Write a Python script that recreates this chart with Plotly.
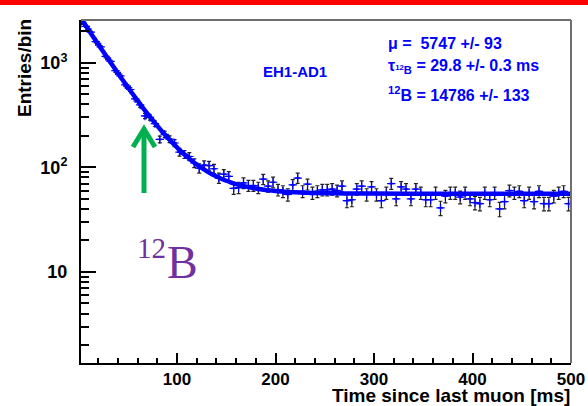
import numpy as np
import plotly.graph_objects as go

# ---------------- data ----------------
bin_width = 5.0
bin_centers = np.arange(2.5, 500.0, bin_width)  # 100 bins, 0-500 ms

counts = [
    2380, 2230, 1960, 1590, 1420, 1150, 1030, 840, 750, 615,
    555, 452, 395, 310, 300, 262, 185, 207, 186, 171,
    140, 133, 127, 110, 98, 105, 104, 97, 79, 86,
    82, 63, 64, 71, 67, 67, 64, 77, 66, 72,
    61, 59, 55, 68, 79, 59, 69, 57, 59, 61,
    61, 62, 60, 66, 48, 49, 62, 66, 55, 65,
    55, 48, 57, 70, 50, 65, 62, 50, 62, 57,
    49, 49, 57, 41, 53, 57, 57, 52, 57, 50,
    46, 45, 57, 49, 57, 40, 47, 60, 57, 59,
    48, 57, 47, 59, 45, 45, 53, 57, 59, 45,
]
count_err = np.sqrt(np.array(counts, dtype=float))

fit_t = [0, 5, 10, 15, 20, 25, 30, 35, 40, 45, 50, 55, 60, 65, 70, 75, 80, 85, 90, 95,
         100, 105, 110, 115, 120, 125, 130, 135, 140, 145, 150, 155, 160, 165, 170, 175,
         180, 185, 190, 195, 200, 210, 220, 230, 240, 260, 280, 300, 350, 400, 450, 500]
fit_val = [2886, 2449, 2079, 1767, 1502, 1279, 1090, 930, 795, 681, 585, 503, 434, 375,
           326, 284, 249, 219, 194, 173, 155, 139.5, 127, 115.7, 106, 98.6, 92, 86.5, 82,
           77.8, 74.4, 71.6, 69.2, 67.1, 65.4, 64.0, 62.7, 61.7, 60.8, 60.1, 59.4, 58.5,
           57.8, 57.3, 56.9, 56.5, 56.2, 56.1, 56.0, 56.0, 56.0, 56.0]

x_major = [100, 200, 300, 400, 500]
x_minor = [20, 40, 60, 80, 120, 140, 160, 180, 220, 240, 260, 280,
           320, 340, 360, 380, 420, 440, 460, 480]
y_major = [10, 100, 1000]
y_major_text = ["10", "10<sup>2</sup>", "10<sup>3</sup>"]
y_minor = [2, 3, 4, 5, 6, 7, 8, 9, 20, 30, 40, 50, 60, 70, 80, 90,
           200, 300, 400, 500, 600, 700, 800, 900, 2000]

stats_lines = ["μ =\u00a0 5747 +/- 93",
               "τ<sub><sup>12</sup>B</sub> = 29.8 +/- 0.3 ms",
               "<sup>12</sup>B = 14786 +/- 133"]
label_text = "EH1-AD1"

# ---------------- geometry helpers (figure pixels -> paper) ----------------
W, H = 588, 406
L, R, T, B = 81, 571, 20, 363


def px(x):
    return (x - L) / (R - L)


def py(y):
    return (B - y) / (B - T)


SANS = "Liberation Sans, Arial, sans-serif"
SERIF = "Liberation Serif, Times New Roman, serif"
BLUE = "#0000ff"

fig = go.Figure()

fig.add_trace(go.Scatter(
    x=bin_centers, y=counts, mode="markers",
    marker=dict(symbol="cross-thin", size=6, color=BLUE,
                line=dict(color=BLUE, width=1.2)),
    error_y=dict(type="data", array=count_err, color="#222222", thickness=1.2, width=2),
    error_x=dict(type="constant", value=bin_width / 2, color=BLUE, thickness=1.5, width=0),
    showlegend=False, hoverinfo="skip",
))

fig.add_trace(go.Scatter(
    x=fit_t, y=fit_val, mode="lines",
    line=dict(color=BLUE, width=4.5, shape="spline"),
    showlegend=False, hoverinfo="skip",
))

fig.update_layout(
    width=W, height=H,
    margin=dict(l=L, r=W - R, t=T, b=H - B, pad=0, autoexpand=False),
    paper_bgcolor="white", plot_bgcolor="white",
    showlegend=False,
    xaxis=dict(
        range=[2.5, 500], showgrid=False, zeroline=False, automargin=False,
        showline=True, linecolor="black", linewidth=2,
        ticks="inside", ticklen=10, tickwidth=2, tickcolor="black",
        tickmode="array", tickvals=x_major, ticktext=[str(v) for v in x_major],
        tickfont=dict(family=SANS, size=17, color="black", weight="bold"),
        ticklabelstandoff=0,
        minor=dict(tickmode="array", tickvals=x_minor, ticks="inside",
                   ticklen=5, tickwidth=2, tickcolor="black", showgrid=False),
    ),
    yaxis=dict(
        type="log", range=[0.129, 3.409], showgrid=False, zeroline=False, automargin=False,
        showline=True, linecolor="black", linewidth=2,
        ticks="inside", ticklen=15, tickwidth=2, tickcolor="black",
        tickmode="array", tickvals=y_major, ticktext=y_major_text,
        tickfont=dict(family=SANS, size=18, color="black", weight="bold"),
        ticklabelstandoff=8,
        minor=dict(tickmode="array", tickvals=y_minor, ticks="inside",
                   ticklen=8, tickwidth=2, tickcolor="black", showgrid=False),
    ),
)

shapes = [
    # red banner at top of slide
    dict(type="rect", xref="paper", yref="paper", x0=px(0), x1=px(W), y0=py(5), y1=py(0),
         fillcolor="#ff0000", line=dict(width=0), layer="above"),
    # top and right frame
    dict(type="line", xref="paper", yref="paper", x0=0, x1=1, y0=1, y1=1,
         line=dict(color="#6e6e6e", width=2)),
    dict(type="line", xref="paper", yref="paper", x0=1, x1=1, y0=0, y1=1,
         line=dict(color="#6e6e6e", width=2)),
    # green arrow (shaft + chevron head)
    dict(type="line", xref="paper", yref="paper", x0=px(144), x1=px(144), y0=py(193), y1=py(130),
         line=dict(color="#00b050", width=5)),
    dict(type="path", xref="paper", yref="paper",
         path=f"M {px(133)} {py(147)} L {px(144)} {py(129)} L {px(155)} {py(147)}",
         line=dict(color="#00b050", width=5)),
]
fig.update_layout(shapes=shapes)

annotations = [
    dict(text="Entries/bin", xref="paper", yref="paper", x=px(25), y=py(68),
         xanchor="center", yanchor="middle", textangle=-90, showarrow=False,
         font=dict(family=SANS, size=19, color="black", weight="bold")),
    dict(text="Time since last muon [ms]", xref="paper", yref="paper", x=px(572), y=py(395.5),
         xanchor="right", yanchor="middle", showarrow=False,
         font=dict(family=SANS, size=19, color="black", weight="bold")),
    dict(text=label_text, xref="paper", yref="paper", x=px(295), y=py(71),
         xanchor="center", yanchor="middle", showarrow=False,
         font=dict(family=SANS, size=15, color=BLUE, weight="bold")),
    dict(text="12", xref="paper", yref="paper", x=px(135), y=py(248),
         xanchor="left", yanchor="middle", showarrow=False,
         font=dict(family=SERIF, size=29, color="#7030a0")),
    dict(text="B", xref="paper", yref="paper", x=px(165), y=py(262),
         xanchor="left", yanchor="middle", showarrow=False,
         font=dict(family=SERIF, size=46, color="#7030a0")),
]
for line_txt, yy in zip(stats_lines, [43, 67, 94]):
    annotations.append(dict(text=line_txt, xref="paper", yref="paper", x=px(386), y=py(yy),
                            xanchor="left", yanchor="middle", showarrow=False,
                            font=dict(family=SANS, size=16, color=BLUE, weight="bold")))
fig.update_layout(annotations=annotations)

fig.write_html("out.html", config={"displayModeBar": False},
               post_script="document.body.style.margin='0';document.body.style.overflow='hidden';")
